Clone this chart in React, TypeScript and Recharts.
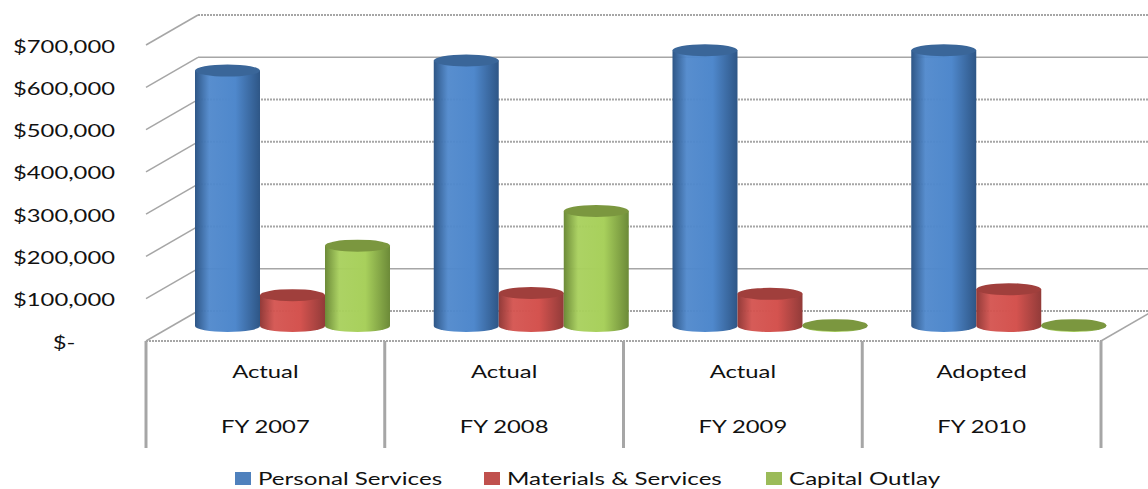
import { Bar, CartesianGrid, ComposedChart, Legend, XAxis, YAxis } from "recharts"

const fiscalYears = ["FY 2007", "FY 2008", "FY 2009", "FY 2010"]
const budgetStages = ["Actual", "Actual", "Actual", "Adopted"]
const personalServices = [604000, 628000, 652000, 652000]
const materialsServices = [73000, 78000, 76000, 87000]
const capitalOutlay = [190000, 272000, 2000, 2000]
const valueTicks = [0, 100000, 200000, 300000, 400000, 500000, 600000, 700000]
// these gridlines render with a dotted texture
const dottedTicks = [0, 400000, 500000, 700000]

const tableRows = fiscalYears.map((year, i) => ({
  year,
  personal: personalServices[i],
  materials: materialsServices[i],
  capital: capitalOutlay[i],
}))

const WIDTH = 1148
const HEIGHT = 489
const PLOT_LEFT = 146
const PLOT_TOP = 45
const PLOT_BOTTOM = 341
const PLOT_RIGHT = 1101
const BAND = (PLOT_RIGHT - PLOT_LEFT) / fiscalYears.length
// projection of the back wall relative to the front of the floor
const DEPTH_X = 52
const DEPTH_Y = 30
const BAR_SHIFT = DEPTH_X / 2 + 1

const FONT = "Lato, 'Open Sans', sans-serif"
const FONT_SIZE = 17
const STRETCH = 1.4
const LEGEND_STRETCH = 1.42
const GREY = "#a6a6a6"

const seriesStyles = {
  personal: { name: "Personal Services", swatch: "#4f81bd", edge: "#2e5686", mid: "#4f88cc", top: "#3a6699" },
  materials: { name: "Materials & Services", swatch: "#c0504d", edge: "#923b39", mid: "#d4534f", top: "#a03f3c" },
  capital: { name: "Capital Outlay", swatch: "#9bbb59", edge: "#6c8a38", mid: "#a8d05c", top: "#7b973f" },
}
const legendLefts = [235, 484, 766]

function StretchedText({ x, y, children }: { x: number; y: number; children: string }) {
  return (
    <text
      transform={`translate(${x} ${y}) scale(${STRETCH} 1)`}
      textAnchor="middle"
      dominantBaseline="central"
      fontFamily={FONT}
      fontSize={FONT_SIZE}
      fill="#111"
    >
      {children}
    </text>
  )
}

function formatMoney(value: number) {
  return value === 0 ? "$-" : `$${value.toLocaleString("en-US")}`
}

function ValueTick({ y, payload }: any) {
  return <StretchedText x={64} y={y + 1}>{formatMoney(payload.value)}</StretchedText>
}

function CategoryTick({ x, y, payload, index }: any) {
  const isLast = index === fiscalYears.length - 1
  const separator = (sx: number) => (
    <line x1={sx} y1={y} x2={sx} y2={y + 107} stroke={GREY} strokeWidth={3} />
  )
  return (
    <g>
      {separator(x - BAND / 2)}
      {isLast && separator(x + BAND / 2)}
      {isLast && (
        <line
          x1={x + BAND / 2}
          y1={y}
          x2={x + BAND / 2 + DEPTH_X}
          y2={y - DEPTH_Y}
          stroke={GREY}
          strokeWidth={1.5}
        />
      )}
      <StretchedText x={x} y={y + 30}>{budgetStages[index]}</StretchedText>
      <StretchedText x={x} y={y + 85}>{payload.value}</StretchedText>
    </g>
  )
}

// side wall segment plus back wall line for one value level
function WallLine({ x1, y1, index }: any) {
  const dotted = dottedTicks.includes(valueTicks[valueTicks.length - 1 - index]) || dottedTicks.includes(valueTicks[index])
  const backX = x1 + DEPTH_X
  const backY = y1 - DEPTH_Y
  return (
    <g key={index}>
      <line x1={x1} y1={y1} x2={backX} y2={backY} stroke={GREY} strokeWidth={1.5} />
      <line
        x1={backX}
        y1={backY}
        x2={WIDTH}
        y2={backY}
        stroke={GREY}
        strokeWidth={dotted ? 2 : 1.5}
        strokeDasharray={dotted ? "2 1" : undefined}
      />
    </g>
  )
}

function Cylinder({ x, y, width, height, seriesKey }: any) {
  const style = seriesStyles[seriesKey as keyof typeof seriesStyles]
  const left = x + BAR_SHIFT
  const right = left + width
  const top = y - DEPTH_Y / 2
  const bottom = top + height
  const cx = left + width / 2
  const rx = width / 2
  const ry = 6
  return (
    <g>
      <path
        d={`M${left} ${top} L${left} ${bottom} A${rx} ${ry} 0 0 0 ${right} ${bottom} L${right} ${top} Z`}
        fill={`url(#cyl-${seriesKey})`}
      />
      <ellipse cx={cx} cy={top} rx={rx} ry={ry} fill={style.top} />
    </g>
  )
}

function LegendRow() {
  const entries = Object.values(seriesStyles)
  return (
    <div style={{ position: "relative", width: WIDTH, height: 40 }}>
      {entries.map((entry, i) => (
        <div key={entry.name}>
          <span
            style={{
              position: "absolute",
              left: legendLefts[i],
              top: 23,
              width: 16,
              height: 13,
              background: entry.swatch,
            }}
          />
          <span
            style={{
              position: "absolute",
              left: legendLefts[i] + 23,
              top: 19,
              fontFamily: FONT,
              fontSize: FONT_SIZE,
              lineHeight: "22px",
              color: "#111",
              whiteSpace: "nowrap",
              transform: `scaleX(${LEGEND_STRETCH})`,
              transformOrigin: "left center",
            }}
          >
            {entry.name}
          </span>
        </div>
      ))}
    </div>
  )
}

export default function App() {
  return (
    <div style={{ position: "absolute", left: 0, top: 0, width: WIDTH, height: HEIGHT, background: "#fff" }}>
      <ComposedChart
        width={WIDTH}
        height={HEIGHT}
        data={tableRows}
        margin={{ top: PLOT_TOP, right: WIDTH - PLOT_RIGHT, bottom: 0, left: 0 }}
        barCategoryGap={22}
        barGap={0}
      >
        <defs>
          {Object.entries(seriesStyles).map(([key, s]) => (
            <linearGradient key={key} id={`cyl-${key}`} x1="0" y1="0" x2="1" y2="0">
              <stop offset="0%" stopColor={s.edge} />
              <stop offset="22%" stopColor={s.mid} stopOpacity={0.95} />
              <stop offset="62%" stopColor={s.mid} />
              <stop offset="100%" stopColor={s.edge} />
            </linearGradient>
          ))}
        </defs>
        <CartesianGrid vertical={false} horizontal={(props: any) => <WallLine {...props} />} />
        <XAxis
          dataKey="year"
          interval={0}
          height={108}
          tickLine={false}
          tickSize={0}
          tickMargin={0}
          axisLine={{ stroke: GREY, strokeWidth: 2, strokeDasharray: "2 1" }}
          tick={(props: any) => <CategoryTick {...props} />}
        />
        <YAxis
          width={PLOT_LEFT}
          domain={[0, 700000]}
          ticks={valueTicks}
          axisLine={false}
          tickLine={false}
          tick={(props: any) => <ValueTick {...props} />}
        />
        <Legend height={40} content={() => <LegendRow />} wrapperStyle={{ left: 0, bottom: 0, width: WIDTH }} />
        <Bar
          dataKey="personal"
          name={seriesStyles.personal.name}
          fill={seriesStyles.personal.swatch}
          isAnimationActive={false}
          shape={(props: any) => <Cylinder {...props} seriesKey="personal" />}
        />
        <Bar
          dataKey="materials"
          name={seriesStyles.materials.name}
          fill={seriesStyles.materials.swatch}
          isAnimationActive={false}
          shape={(props: any) => <Cylinder {...props} seriesKey="materials" />}
        />
        <Bar
          dataKey="capital"
          name={seriesStyles.capital.name}
          fill={seriesStyles.capital.swatch}
          isAnimationActive={false}
          shape={(props: any) => <Cylinder {...props} seriesKey="capital" />}
        />
      </ComposedChart>
    </div>
  )
}
